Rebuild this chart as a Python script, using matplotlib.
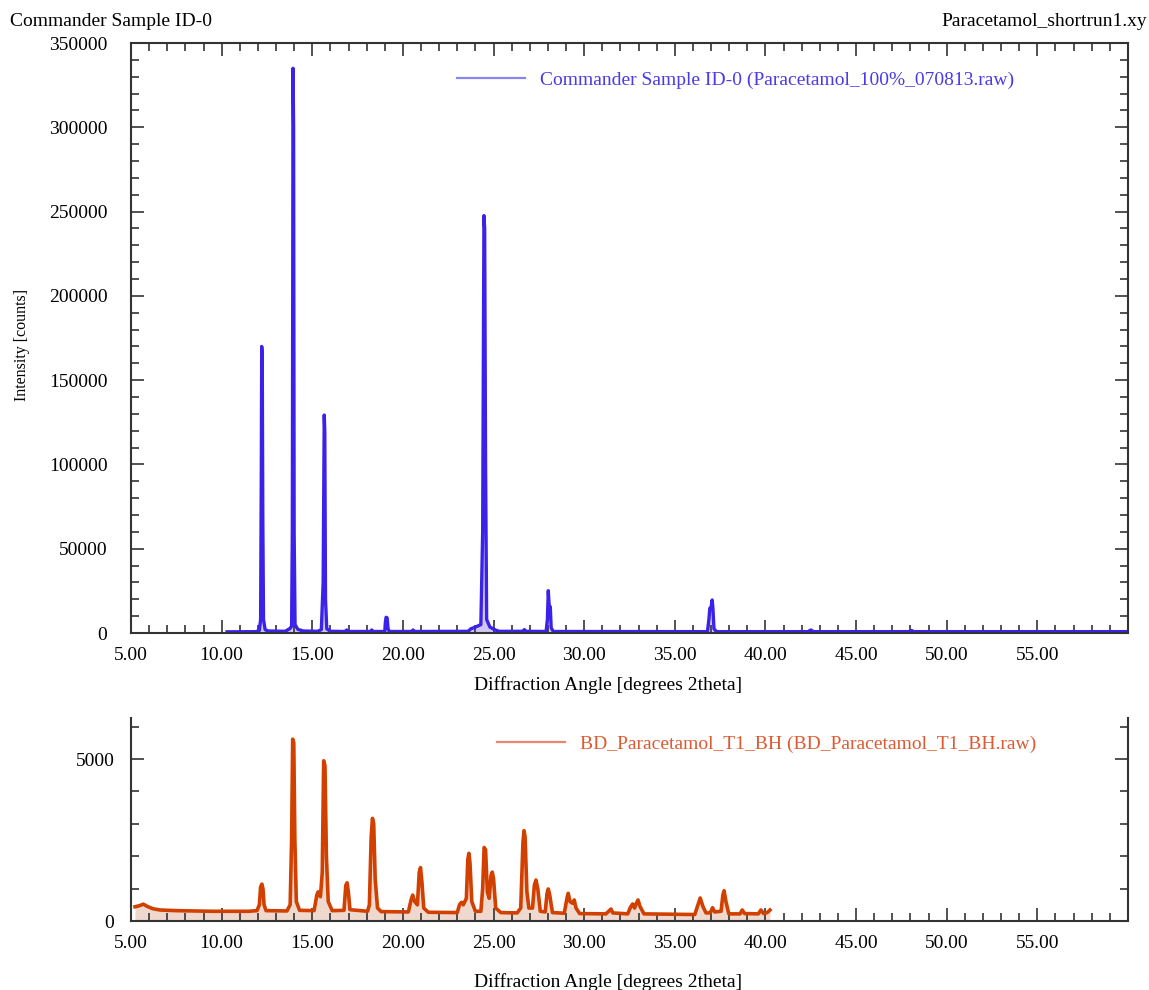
import numpy as np
import matplotlib
matplotlib.use("Agg")
import matplotlib.pyplot as plt
from matplotlib.ticker import FixedLocator, MultipleLocator, FuncFormatter

plt.rcParams['font.family'] = ['Liberation Serif', 'DejaVu Serif']

# reference pattern (Commander Sample ID-0)
ref_x = [10.3, 11.9, 12.08, 12.15, 12.19, 12.21, 12.24, 12.27, 12.31, 12.40, 12.55,
         13.5, 13.75, 13.86, 13.90, 13.94, 13.97, 14.00, 14.05, 14.2, 14.5,
         15.3, 15.50, 15.60, 15.66, 15.69, 15.73, 15.80, 16.0,
         16.8, 16.9, 17.0, 18.2, 18.28, 18.36,
         19.0, 19.03, 19.07, 19.13, 19.18, 19.25, 20.5, 20.56, 20.62,
         23.6, 23.75, 24.0, 24.30, 24.40, 24.47, 24.51, 24.56, 24.62, 24.8, 25.1, 25.3,
         26.6, 26.7, 26.8, 27.9, 27.97, 28.02, 28.07, 28.13, 28.18, 28.3,
         36.8, 36.88, 36.93, 37.0, 37.06, 37.10, 37.16, 37.3,
         42.35, 42.5, 42.65, 47.9, 48.05, 48.2, 60.0]
ref_y = [700, 800, 1500, 8000, 100000, 170000, 165000, 70000, 8000, 2000, 1200,
         1000, 2500, 4000, 60000, 335000, 300000, 60000, 5000, 2200, 1200,
         1000, 2000, 30000, 129300, 120000, 20000, 2500, 1000,
         900, 1800, 900, 900, 1800, 900,
         900, 6000, 9300, 9000, 2500, 900, 900, 1800, 900,
         1000, 2500, 3500, 5000, 60000, 247600, 240000, 100000, 8000, 3500, 1800, 1000,
         1000, 2000, 1000, 900, 8000, 25100, 16000, 15600, 3000, 900,
         800, 8000, 14650, 15000, 19600, 15000, 2500, 800,
         800, 1800, 800, 800, 1500, 800, 800]

# sample pattern (BD_Paracetamol_T1_BH)
bd_x = [5.22, 5.45, 5.68, 5.9, 6.2, 6.6, 7.5, 8.5, 9.5, 10.5, 11.5,
        11.95, 12.08, 12.15, 12.22, 12.28, 12.34, 12.45,
        13.6, 13.78, 13.86, 13.92, 13.98, 14.04, 14.12, 14.3,
        15.1, 15.25, 15.32, 15.45, 15.55, 15.63, 15.70, 15.78, 15.88, 16.1,
        16.75, 16.85, 16.92, 16.99, 17.08,
        18.05, 18.15, 18.25, 18.32, 18.39, 18.47, 18.6, 18.8,
        20.3, 20.45, 20.54, 20.65, 20.80, 20.90, 20.97, 21.05, 21.15, 21.4,
        23.0, 23.12, 23.23, 23.33, 23.5, 23.58, 23.64, 23.70, 23.80, 24.0,
        24.30, 24.40, 24.48, 24.56, 24.66, 24.76, 24.86, 24.93, 25.00, 25.12, 25.4,
        26.3, 26.5, 26.62, 26.68, 26.74, 26.84, 26.95,
        27.15, 27.25, 27.34, 27.44, 27.58, 27.85, 27.95, 28.02, 28.10, 28.25,
        28.9, 29.05, 29.12, 29.22, 29.35, 29.45, 29.55, 29.75,
        31.2, 31.4, 31.48, 31.58, 32.4, 32.55, 32.67, 32.78, 32.88, 32.97, 33.08, 33.3,
        36.1, 36.25, 36.4, 36.55, 36.72, 36.95, 37.08, 37.2,
        37.55, 37.65, 37.72, 37.82, 37.98, 38.6, 38.72, 38.85,
        39.6, 39.75, 39.9, 40.1, 40.25]
bd_y = [440, 470, 520, 450, 380, 340, 320, 310, 300, 300, 300,
        320, 500, 1050, 1140, 1000, 500, 320,
        310, 500, 2500, 5617, 5500, 2500, 600, 330,
        320, 800, 900, 750, 1500, 4950, 4800, 2000, 600, 320,
        330, 1100, 1180, 900, 350,
        300, 500, 2600, 3170, 3000, 1300, 400, 290,
        280, 650, 800, 600, 500, 1500, 1650, 1200, 400, 270,
        260, 500, 575, 500, 700, 1900, 2090, 1800, 600, 300,
        300, 1000, 2270, 2200, 900, 700, 1400, 1510, 1300, 400, 260,
        250, 400, 2400, 2790, 2600, 900, 400,
        400, 1100, 1265, 1000, 300, 280, 850, 990, 800, 260,
        240, 700, 855, 600, 550, 650, 400, 230,
        220, 330, 370, 250, 220, 420, 525, 400, 550, 650, 450, 220,
        200, 450, 710, 450, 250, 250, 410, 280,
        300, 800, 935, 600, 220, 220, 340, 230,
        220, 340, 230, 260, 340]

x_major = [5, 10, 15, 20, 25, 30, 35, 40, 45, 50, 55]
ref_label = 'Commander Sample ID-0 (Paracetamol_100%_070813.raw)'
bd_label = 'BD_Paracetamol_T1_BH (BD_Paracetamol_T1_BH.raw)'

W, H = 1149, 990
fig = plt.figure(figsize=(W / 100, H / 100), dpi=100)
ax1 = fig.add_axes([131 / W, 1 - 633 / H, 997 / W, 590 / H])
ax2 = fig.add_axes([131 / W, 1 - 921 / H, 997 / W, 203 / H])

spine_c = '#333333'
fs = 14


def style(ax, ypad, top_spine):
    ax.set_xlim(5, 60)
    ax.xaxis.set_major_locator(FixedLocator(x_major))
    ax.xaxis.set_minor_locator(MultipleLocator(1))
    ax.xaxis.set_major_formatter(FuncFormatter(lambda v, p: '%.2f' % v))
    ax.tick_params(which='both', direction='in', top=top_spine, right=True,
                   color=spine_c, width=1.2, labelsize=fs)
    ax.tick_params(which='major', length=9.5)
    ax.tick_params(which='minor', length=5.5)
    ax.tick_params(axis='x', pad=10)
    ax.tick_params(axis='y', pad=ypad)
    for s in ax.spines.values():
        s.set_color(spine_c)
        s.set_linewidth(1.5)
    ax.spines['top'].set_visible(top_spine)


# top panel
ax1.fill_between(ref_x, 0, ref_y, color='#cfc8f4', lw=0)
ax1.plot(ref_x, ref_y, color='#3a22ea', lw=2.4, label=ref_label)
ax1.set_ylim(0, 350000)
ax1.yaxis.set_major_locator(MultipleLocator(50000))
ax1.yaxis.set_minor_locator(MultipleLocator(10000))
style(ax1, 17, True)
ax1.set_xlabel('Diffraction Angle [degrees 2theta]', fontsize=fs, va='center')
ax1.xaxis.set_label_coords(0.478, (633 - 685) / 590)
ax1.set_ylabel('Intensity [counts]', fontsize=11.5, va='center')
ax1.yaxis.set_label_coords((22 - 131) / 997, (633 - 345) / 590)
leg1 = ax1.legend(loc='center left', bbox_to_anchor=((457 - 131) / 997, (633 - 80) / 590),
                  frameon=False, fontsize=fs, handlelength=3.5, handletextpad=0.75,
                  borderpad=0, borderaxespad=0, labelcolor='#4a3ae8')
leg1.get_lines()[0].set_color('#8a84f0')
leg1.get_lines()[0].set_linewidth(1.6)

# bottom panel
ax2.fill_between(bd_x, 0, bd_y, color='#efd8cd', lw=0)
ax2.plot(bd_x, bd_y, color='#d24000', lw=2.6, label=bd_label)
ax2.set_ylim(0, 6270)
ax2.yaxis.set_major_locator(MultipleLocator(5000))
ax2.yaxis.set_minor_locator(MultipleLocator(1000))
style(ax2, 12, False)
ax2.set_xlabel('Diffraction Angle [degrees 2theta]', fontsize=fs, va='center')
ax2.xaxis.set_label_coords(0.478, (921 - 982) / 203)
leg2 = ax2.legend(loc='center left', bbox_to_anchor=((497 - 131) / 997, (921 - 744) / 203),
                  frameon=False, fontsize=fs, handlelength=3.5, handletextpad=0.75,
                  borderpad=0, borderaxespad=0, labelcolor='#de5a32')
leg2.get_lines()[0].set_color('#e8886c')
leg2.get_lines()[0].set_linewidth(1.6)

fig.text(10 / W, 1 - 22 / H, 'Commander Sample ID-0', fontsize=fs, va='center', ha='left')
fig.text(1147 / W, 1 - 22 / H, 'Paracetamol_shortrun1.xy', fontsize=fs, va='center', ha='right')

fig.savefig('out.png', dpi=100)
